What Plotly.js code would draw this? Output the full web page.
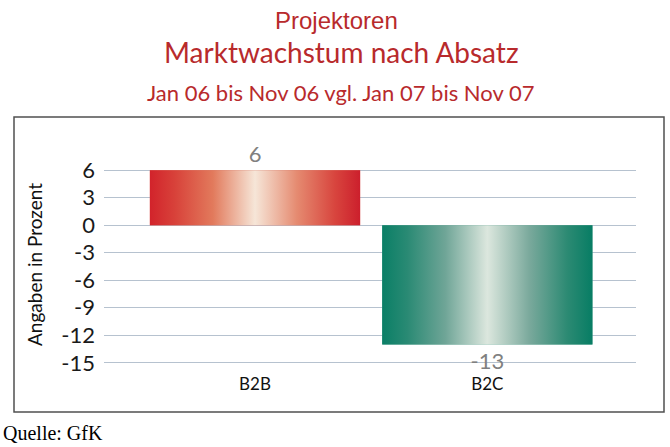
<!DOCTYPE html>
<html><head><meta charset="utf-8">
<script src="https://cdn.plot.ly/plotly-3.0.1.min.js"></script>
<style>html,body{margin:0;padding:0;background:#fff}#chart{width:670px;height:447px}</style>
</head><body><div id="chart"></div>
<script>
const categories = ["B2B", "B2C"];
const values = [6, -13];
const tickValues = [6, 3, 0, -3, -6, -9, -12, -15];
const tickLabels = ["6", "3", "0", "-3", "-6", "-9", "-12", "-15"];
const titleLines = ["Projektoren", "Marktwachstum nach Absatz", "Jan 06 bis Nov 06 vgl. Jan 07 bis Nov 07"];
const yTitle = "Angaben in Prozent";
const source = "Quelle: GfK";

const barWidth = 0.905;
const gradients = [
  [[0, "#d2232b"], [0.12, "#d8423a"], [0.3, "#e27a5c"], [0.5, "#f6e6d8"], [0.7, "#e58a70"], [0.88, "#d8453e"], [1, "#cc1f2c"]],
  [[0, "#0a7f66"], [0.12, "#2a8a74"], [0.3, "#6fa597"], [0.5, "#dce7de"], [0.7, "#7aa99c"], [0.88, "#2c8a73"], [1, "#077d64"]]
];
const solidColors = ["#e06a55", "#5fa896"];
const xIdx = categories.map((c, i) => i);

const traces = [];
traces.push({
  type: "bar", x: xIdx, y: values, width: barWidth,
  marker: {color: solidColors, line: {width: 0}},
  text: values.map(v => String(v)), textposition: "outside", cliponaxis: false,
  textfont: {family: "Lato, sans-serif", size: 22, color: "#808080"},
  hoverinfo: "x+y", showlegend: false
});
values.forEach((v, i) => {
  const x0 = i - barWidth / 2, x1 = i + barWidth / 2;
  traces.push({
    type: "scatter", mode: "lines", x: [x0, x1, x1, x0, x0], y: [0, 0, v, v, 0],
    fill: "toself", line: {width: 0}, hoverinfo: "skip", showlegend: false,
    fillgradient: {type: "horizontal", colorscale: gradients[i]}
  });
});

const L = 104, T = 161, W = 532, H = 211;
const px = x => (x - L) / W;
const py = y => (T + H - y) / H;
const titleFont = "Lato, sans-serif";
const red = "#b82a2c";

const layout = {
  width: 670, height: 447,
  margin: {l: L, r: 670 - L - W, t: T, b: 447 - T - H},
  paper_bgcolor: "#fff", plot_bgcolor: "#fff",
  xaxis: {range: [-0.65, 1.64], tickvals: xIdx, ticktext: categories, showgrid: false, zeroline: false,
    showline: false, ticks: "", tickfont: {family: "Lato, sans-serif", size: 17, color: "#111"}, fixedrange: true},
  yaxis: {range: [-16, 7], tickvals: tickValues, ticktext: tickLabels, showgrid: true, gridcolor: "#b6c2cf", gridwidth: 1,
    zeroline: true, zerolinecolor: "#b6c2cf", zerolinewidth: 1, showline: false, ticks: "", ticklabelstandoff: 8,
    tickfont: {family: "Lato, sans-serif", size: 22, color: "#1a1a1a"}, fixedrange: true},
  shapes: [{type: "rect", xref: "paper", yref: "paper", x0: px(14), x1: px(664), y0: py(412), y1: py(117),
    line: {color: "#505050", width: 1.5}, fillcolor: "rgba(0,0,0,0)", layer: "below"}],
  annotations: [
    {text: titleLines[0], xref: "paper", yref: "paper", x: px(336), y: py(20), xanchor: "center", yanchor: "middle",
      showarrow: false, font: {family: "Liberation Sans, Arial, sans-serif", size: 24, color: red}},
    {text: titleLines[1], xref: "paper", yref: "paper", x: px(341), y: py(52), xanchor: "center", yanchor: "middle",
      showarrow: false, font: {family: titleFont, size: 28, color: red}},
    {text: titleLines[2], xref: "paper", yref: "paper", x: px(340), y: py(92), xanchor: "center", yanchor: "middle",
      showarrow: false, font: {family: titleFont, size: 22, color: red}},
    {text: yTitle, xref: "paper", yref: "paper", x: px(34), y: py(265), xanchor: "center", yanchor: "middle",
      textangle: -90, showarrow: false, font: {family: titleFont, size: 19, color: "#111"}},
    {text: source, xref: "paper", yref: "paper", x: px(1), y: py(433), xanchor: "left", yanchor: "middle",
      showarrow: false, font: {family: "Liberation Serif, Times New Roman, serif", size: 20, color: "#000"}}
  ]
};
Plotly.newPlot("chart", traces, layout, {displayModeBar: false, staticPlot: true});
</script></body></html>
